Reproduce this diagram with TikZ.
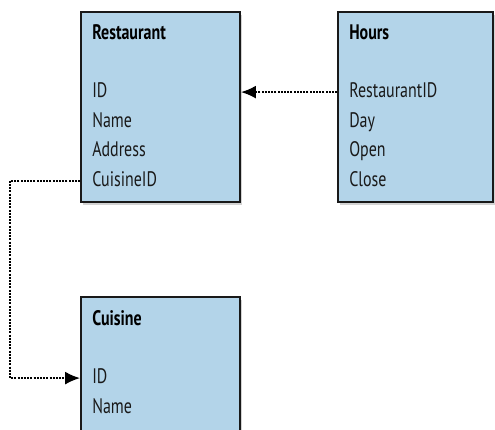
\documentclass[tikz,border=0pt]{standalone}
\usepackage{fontspec}
\setmainfont{PT Sans}[FakeStretch=0.76]
\usetikzlibrary{positioning,arrows.meta,shadows}

\definecolor{tablefill}{HTML}{B3D4E9}

\tikzset{
	table/.style={draw=black!90, line width=1.8pt, fill=tablefill,
		minimum width=159pt, minimum height=190pt,
		drop shadow={shadow xshift=2pt, shadow yshift=-3pt, opacity=0.35}},
	title/.style={inner sep=0pt, font=\fontsize{21}{25}\selectfont\bfseries},
	field/.style={inner sep=0pt, text=black!90, text height=14pt, text depth=3pt,
		font=\fontsize{21}{25}\selectfont},
	link/.style={line width=2pt, dash pattern=on 2pt off 1.2pt,
		-{Latex[length=15pt,width=13pt]}},
}

\begin{document}
\begin{tikzpicture}[node distance=29.5pt, on grid]
	\useasboundingbox (0,0) rectangle (495pt,-430pt);
	% tables
	\node[table] (restaurant) at (160.5pt,-107pt) {};
	\node[table, minimum width=155pt] (hours) [right=255pt of restaurant] {};
	\node[table] (cuisine) [below=285pt of restaurant] {};
	% Restaurant
	\node[title] (rtitle) [below right=21pt and 12pt of restaurant.north west, anchor=west] {Restaurant};
	\node[field] (rid) [below=60pt of rtitle.west, anchor=west] {ID};
	\node[field] (rname) [below=of rid.west, anchor=west] {Name};
	\node[field] (raddr) [below=of rname.west, anchor=west] {Address};
	\node[field] (rcid) [below=of raddr.west, anchor=west] {CuisineID};
	% Hours
	\node[title] (htitle) [below right=21pt and 12pt of hours.north west, anchor=west] {Hours};
	\node[field] (hrid) [below=60pt of htitle.west, anchor=west] {RestaurantID};
	\node[field] (hday) [below=of hrid.west, anchor=west] {Day};
	\node[field] (hopen) [below=of hday.west, anchor=west] {Open};
	\node[field] (hclose) [below=of hopen.west, anchor=west] {Close};
	% Cuisine
	\node[title] (ctitle) [below right=22pt and 12pt of cuisine.north west, anchor=west] {Cuisine};
	\node[field] (cid) [below=60pt of ctitle.west, anchor=west] {ID};
	\node[field] (cname) [below=of cid.west, anchor=west] {Name};
	% links
	\coordinate (turn) at (10pt,0);
	\draw[link] (hrid -| hours.west) -- (hrid -| restaurant.east);
	\draw[link] (rcid -| restaurant.west) -- (rcid -| turn) -- (cid -| turn) -- (cid -| cuisine.west);
\end{tikzpicture}
\end{document}
